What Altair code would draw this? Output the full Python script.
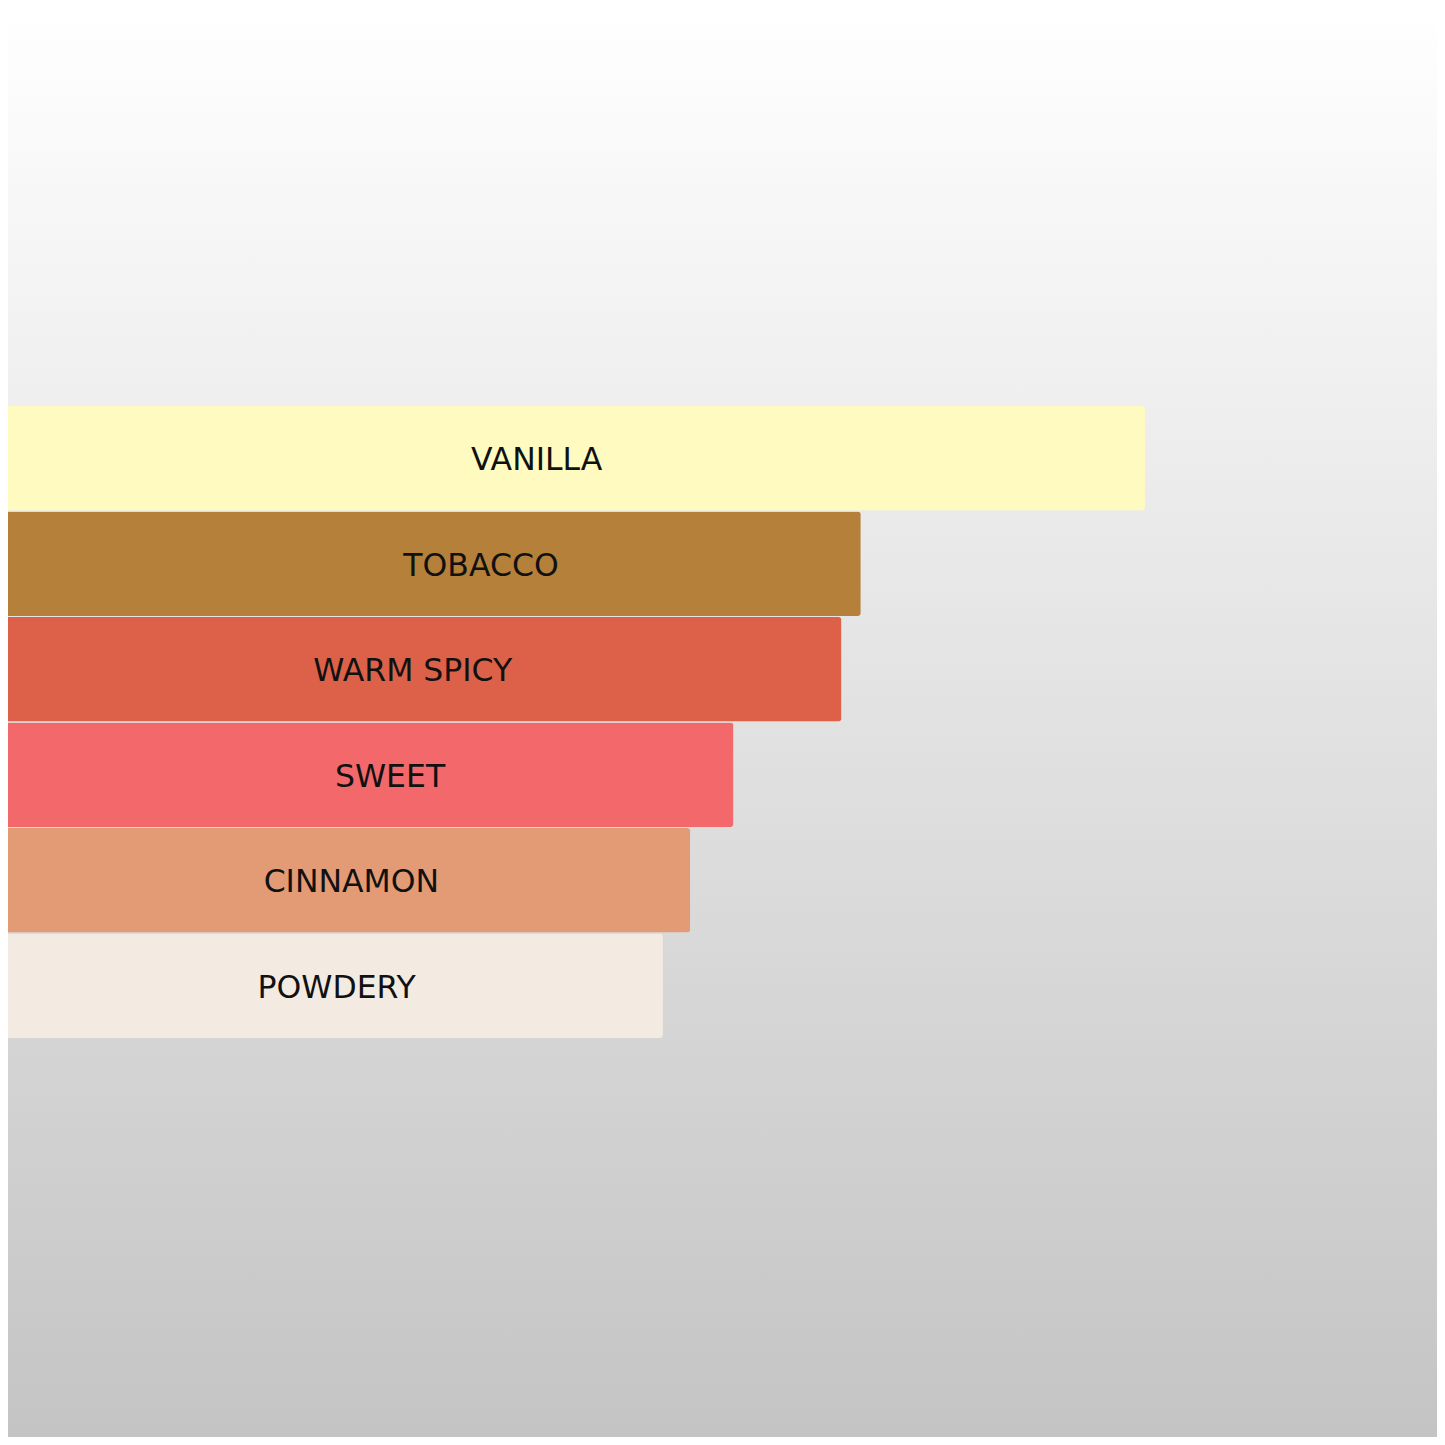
import altair as alt
import pandas as pd

# Data
accords = ["VANILLA", "TOBACCO", "WARM SPICY", "SWEET", "CINNAMON", "POWDERY"]
strength = [100.0, 75.0, 73.3, 63.8, 60.0, 57.6]
label_at = [46.5, 41.6, 35.6, 33.6, 30.2, 28.9]
bar_colors = ["#FFFBC0", "#B5803A", "#DC6148", "#F2686B", "#E29B74", "#F3EBE1"]

df = pd.DataFrame({
    "accord": accords,
    "strength": strength,
    "label_at": label_at,
    "color": bar_colors,
})

W = 1429
H = 1429

x_scale = alt.Scale(domain=[0, 125.68], nice=False, zero=True)
y_scale = alt.Scale(domain=accords, range=[398, 1030], paddingInner=0.01, paddingOuter=0)

background = alt.Chart(alt.Data(values=[{"k": 1}])).mark_rect(
    fill={
        "gradient": "linear",
        "x1": 0, "x2": 0, "y1": 0, "y2": 1,
        "stops": [
            {"offset": 0, "color": "#FFFFFF"},
            {"offset": 1, "color": "#C4C4C4"},
        ],
    }
).encode(
    x=alt.value(0), x2=alt.value(W), y=alt.value(0), y2=alt.value(H)
)

bars = alt.Chart(df).mark_bar(cornerRadiusEnd=3).encode(
    x=alt.X("strength:Q", scale=x_scale, axis=None),
    y=alt.Y("accord:N", scale=y_scale, axis=None, sort=accords),
    color=alt.Color("color:N", scale=None, legend=None),
)

labels = alt.Chart(df).mark_text(
    font="DejaVu Sans", fontSize=31.5, color="#111111", align="center",
    baseline="middle", dy=3
).encode(
    x=alt.X("label_at:Q", scale=x_scale, axis=None),
    y=alt.Y("accord:N", scale=y_scale, axis=None, sort=accords),
    text="accord:N",
)

chart = alt.layer(background, bars, labels).properties(
    width=W, height=H, padding=0,
    autosize=alt.AutoSizeParams(type="fit", contains="padding"),
).configure_view(strokeWidth=0)

chart.save("out.html", embed_options={"renderer": "svg", "actions": False})
